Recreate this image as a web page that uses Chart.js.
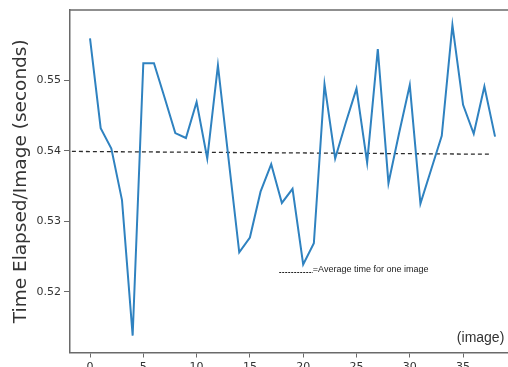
<!DOCTYPE html>
<html>
<head>
<meta charset="utf-8">
<script src="https://cdn.jsdelivr.net/npm/chart.js@4.4.1/dist/chart.umd.min.js"></script>
<style>
  html, body { margin: 0; padding: 0; overflow: hidden; background: #fff; width: 508px; height: 367px; }
  #wrap { position: absolute; left: 0; top: 0; width: 520px; height: 380px; }
</style>
</head>
<body>
<div id="wrap"><canvas id="c"></canvas></div>
<script>
// Image index and the measured processing time for each image (seconds)
const imageIndex = [0, 1, 2, 3, 4, 5, 6, 7, 8, 9, 10, 11, 12, 13, 14, 15, 16, 17, 18, 19,
                    20, 21, 22, 23, 24, 25, 26, 27, 28, 29, 30, 31, 32, 33, 34, 35, 36, 37, 38];
const timePerImage = [0.5559, 0.5432, 0.5403, 0.5330, 0.5138, 0.5524, 0.5524, 0.5475, 0.5425, 0.5418,
                      0.5469, 0.5389, 0.5521, 0.5388, 0.5256, 0.5277, 0.5342, 0.5381, 0.5326, 0.5346,
                      0.5239, 0.5269, 0.5494, 0.5389, 0.5440, 0.5488, 0.5383, 0.5544, 0.5354, 0.5425,
                      0.5493, 0.5325, 0.5373, 0.5421, 0.5578, 0.5465, 0.5424, 0.5491, 0.5420];

// Average reference line (end points)
const avgLineX = [-1.7, 37.7];
const avgLineY = [0.5399, 0.5395];

// Axis ticks
const xTicks = [0, 5, 10, 15, 20, 25, 30, 35];
const yTicks = [0.52, 0.53, 0.54, 0.55];

// Texts
const yTitle = 'Time Elapsed/Image (seconds)';
const xUnitLabel = '(image)';
const avgNote = '=Average time for one image';

// Note / label anchors in data units
const avgNoteDash = { x0: 17.75, x1: 20.9, y: 0.52286 };
const avgNoteText = { x: 20.9, y: 0.52324 };
const xUnitPos = { x: 38.87, y: 0.51347 };

const mainData = imageIndex.map((x, i) => ({ x: x, y: timePerImage[i] }));
const avgData = avgLineX.map((x, i) => ({ x: x, y: avgLineY[i] }));

const axisColor = '#6a6a6a';
const textColor = '#333333';

const decorations = {
  id: 'decorations',
  afterDraw(chart) {
    const { ctx, chartArea, scales } = chart;
    const xs = scales.x, ys = scales.y;
    ctx.save();
    // upper frame line
    ctx.strokeStyle = axisColor;
    ctx.lineWidth = 1.5;
    ctx.beginPath();
    ctx.moveTo(chartArea.left - 0.75, chartArea.top);
    ctx.lineTo(chartArea.right, chartArea.top);
    ctx.stroke();

    // legend-like note for the dashed average line
    ctx.strokeStyle = '#222';
    ctx.lineWidth = 1;
    ctx.setLineDash([2, 1]);
    const dy = Math.round(ys.getPixelForValue(avgNoteDash.y)) + 0.5;
    ctx.beginPath();
    ctx.moveTo(xs.getPixelForValue(avgNoteDash.x0), dy);
    ctx.lineTo(xs.getPixelForValue(avgNoteDash.x1), dy);
    ctx.stroke();
    ctx.setLineDash([]);
    ctx.fillStyle = '#222';
    ctx.font = '9px "Liberation Sans", Arial, sans-serif';
    ctx.textAlign = 'left';
    ctx.textBaseline = 'middle';
    ctx.fillText(avgNote, xs.getPixelForValue(avgNoteText.x), ys.getPixelForValue(avgNoteText.y));

    // unit label of the horizontal axis
    ctx.font = '14px "Liberation Sans", Arial, sans-serif';
    ctx.fillStyle = textColor;
    ctx.textAlign = 'right';
    ctx.fillText(xUnitLabel, xs.getPixelForValue(xUnitPos.x), ys.getPixelForValue(xUnitPos.y));
    ctx.restore();
  }
};

new Chart(document.getElementById('c'), {
  type: 'line',
  data: {
    datasets: [
      {
        data: mainData,
        borderColor: '#2f82c0',
        borderWidth: 2,
        pointRadius: 0,
        tension: 0,
        fill: false
      },
      {
        data: avgData,
        borderColor: '#2b2b2b',
        borderWidth: 1.3,
        borderDash: [4, 3],
        pointRadius: 0,
        fill: false
      }
    ]
  },
  options: {
    responsive: true,
    maintainAspectRatio: false,
    animation: false,
    events: [],
    layout: { padding: { left: 0, top: 10, right: 4.7, bottom: 0 } },
    plugins: { legend: { display: false }, tooltip: { enabled: false } },
    scales: {
      x: {
        type: 'linear',
        min: -1.878,
        max: 39.9,
        afterBuildTicks: s => { s.ticks = xTicks.map(v => ({ value: v })); },
        afterFit: s => { s.height = 27.5; },
        ticks: {
          autoSkip: false, maxRotation: 0, padding: 3,
          color: textColor,
          font: { family: 'DejaVu Sans', size: 11 },
          callback: v => String(v)
        },
        grid: { display: true, drawOnChartArea: false, drawTicks: true, tickLength: 5, color: axisColor, lineWidth: 1 },
        border: { display: true, color: axisColor, width: 1.5 }
      },
      y: {
        min: 0.51142,
        max: 0.55993,
        afterBuildTicks: s => { s.ticks = yTicks.map(v => ({ value: v })); },
        afterFit: s => { s.width = 70; },
        ticks: {
          padding: 3,
          color: textColor,
          font: { family: 'DejaVu Sans', size: 11 },
          callback: v => v.toFixed(2)
        },
        grid: { display: true, drawOnChartArea: false, drawTicks: true, tickLength: 6, color: axisColor, lineWidth: 1 },
        border: { display: true, color: axisColor, width: 1.5 },
        title: {
          display: true,
          text: yTitle,
          color: textColor,
          font: { family: 'DejaVu Sans', size: 18.5 },
          padding: { top: 10.5, bottom: 0 }
        }
      }
    }
  },
  plugins: [decorations]
});
</script>
</body>
</html>
